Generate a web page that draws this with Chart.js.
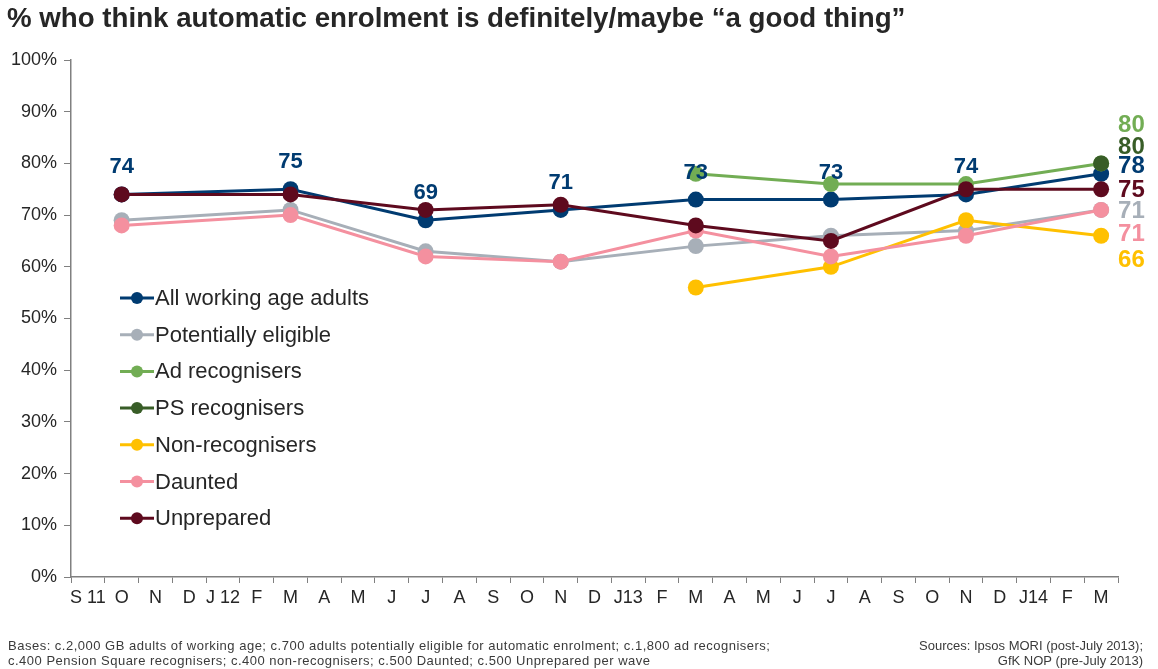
<!DOCTYPE html>
<html>
<head>
<meta charset="utf-8">
<script src="https://cdn.jsdelivr.net/npm/chart.js@4.4.1/dist/chart.umd.min.js"></script>
<style>
  html, body { margin: 0; padding: 0; background: #fff; }
  #wrap { position: relative; width: 1158px; height: 669px; }
</style>
</head>
<body>
<div id="wrap"><canvas id="mainChart" width="1158" height="669"></canvas></div>
<script>
// month labels, Sept 2011 to March 2014
const months = ['S 11','O','N','D','J 12','F','M','A','M','J','J','A','S','O','N','D','J13','F','M','A','M','J','J','A','S','O','N','D','J14','F','M'];

// survey waves (null = no wave that month)
const _ = null;
const allAdults    = [_,74,_,_,_,_,75,_,_,_,69,_,_,_,71,_,_,_,73,_,_,_,73,_,_,_,74,_,_,_,78];
const potEligible  = [_,69,_,_,_,_,71,_,_,_,63,_,_,_,61,_,_,_,64,_,_,_,66,_,_,_,67,_,_,_,71];
const adRecog      = [_,_,_,_,_,_,_,_,_,_,_,_,_,_,_,_,_,_,78,_,_,_,76,_,_,_,76,_,_,_,80];
const psRecog      = [_,_,_,_,_,_,_,_,_,_,_,_,_,_,_,_,_,_,_,_,_,_,_,_,_,_,_,_,_,_,80];
const nonRecog     = [_,_,_,_,_,_,_,_,_,_,_,_,_,_,_,_,_,_,56,_,_,_,60,_,_,_,69,_,_,_,66];
const daunted      = [_,68,_,_,_,_,70,_,_,_,62,_,_,_,61,_,_,_,67,_,_,_,62,_,_,_,66,_,_,_,71];
const unprepared   = [_,74,_,_,_,_,74,_,_,_,71,_,_,_,72,_,_,_,68,_,_,_,65,_,_,_,75,_,_,_,75];

const seriesNames  = ['All working age adults','Potentially eligible','Ad recognisers','PS recognisers','Non-recognisers','Daunted','Unprepared'];
const seriesData   = [allAdults, potEligible, adRecog, psRecog, nonRecog, daunted, unprepared];
const seriesColors = ['#003B71','#A7AFB8','#72AD54','#385D27','#FFC000','#F4909F','#5E0A1E'];
// drawing order: lower sits on top
const seriesOrder  = [6, 5, 4, 3, 2, 1, 0];
// nudge (px) for the end-of-line value labels so they don't collide
const endNudge     = [-7, 1, -38, -16, 25, 24, 1];

const yTicks = [0,10,20,30,40,50,60,70,80,90,100];

const FONT = 'Arial, "Liberation Sans", sans-serif';
const TEXT = '#262626';

const datasets = seriesNames.map((name, i) => ({
  label: name,
  data: seriesData[i],
  borderColor: seriesColors[i],
  backgroundColor: seriesColors[i],
  pointBackgroundColor: seriesColors[i],
  pointBorderWidth: 0,
  pointRadius: 8,
  pointHoverRadius: 8,
  borderWidth: 3,
  tension: 0,
  spanGaps: true,
  order: seriesOrder[i]
}));

// labels, legend, title and footnotes painted on top of the plot
const overlay = {
  id: 'overlay',
  afterDraw(chart) {
    const ctx = chart.ctx;
    ctx.save();

    // title
    ctx.fillStyle = TEXT;
    ctx.font = 'bold 27.7px ' + FONT;
    ctx.textAlign = 'left';
    ctx.textBaseline = 'middle';
    ctx.fillText('% who think automatic enrolment is definitely/maybe \u201ca good thing\u201d', 7, 19);

    // wave values for all working age adults
    const meta0 = chart.getDatasetMeta(0);
    ctx.font = 'bold 22px ' + FONT;
    ctx.fillStyle = seriesColors[0];
    ctx.textAlign = 'center';
    const last = allAdults.length - 1;
    allAdults.forEach((v, j) => {
      if (v === null || j === last) return;
      const p = meta0.data[j];
      ctx.fillText(String(v), p.x, p.y - 27);
    });

    // end-of-line values
    ctx.font = 'bold 24px ' + FONT;
    ctx.textAlign = 'left';
    const yScale = chart.scales.y;
    const xScale = chart.scales.x;
    seriesData.forEach((arr, i) => {
      const v = arr[last];
      if (v === null) return;
      ctx.fillStyle = seriesColors[i];
      ctx.fillText(String(v), xScale.getPixelForValue(last) + 17, yScale.getPixelForValue(v) + endNudge[i]);
    });

    // legend
    ctx.font = '22px ' + FONT;
    seriesNames.forEach((name, i) => {
      const y = 298 + i * 36.7;
      ctx.strokeStyle = seriesColors[i];
      ctx.lineWidth = 3;
      ctx.beginPath();
      ctx.moveTo(120, y);
      ctx.lineTo(154, y);
      ctx.stroke();
      ctx.fillStyle = seriesColors[i];
      ctx.beginPath();
      ctx.arc(137, y, 6, 0, Math.PI * 2);
      ctx.fill();
      ctx.fillStyle = TEXT;
      ctx.fillText(name, 155, y + 1);
    });

    // footnotes
    ctx.font = '13px ' + FONT;
    ctx.fillStyle = '#3a3a3a';
    ctx.textAlign = 'left';
    ctx.letterSpacing = '0.5px';
    ctx.fillText('Bases: c.2,000 GB adults of working age; c.700 adults potentially eligible for automatic enrolment; c.1,800 ad recognisers;', 8, 646);
    ctx.fillText('c.400 Pension Square recognisers; c.400 non-recognisers; c.500 Daunted; c.500 Unprepared per wave', 8, 661);
    ctx.letterSpacing = '0px';
    ctx.textAlign = 'right';
    ctx.fillText('Sources: Ipsos MORI (post-July 2013);', 1143, 646);
    ctx.fillText('GfK NOP (pre-July 2013)', 1143, 661);

    ctx.restore();
  }
};

new Chart(document.getElementById('mainChart'), {
  type: 'line',
  data: { labels: months, datasets },
  options: {
    responsive: false,
    animation: false,
    devicePixelRatio: 1,
    layout: { padding: { top: 60, right: 40, left: 0, bottom: 0 } },
    plugins: {
      legend: { display: false },
      tooltip: { enabled: false },
      title: { display: false }
    },
    scales: {
      x: {
        type: 'category',
        offset: true,
        afterFit(scale) { scale.height = 92; },
        grid: {
          display: true,
          drawOnChartArea: false,
          offset: true,
          tickLength: 6,
          color: '#808080',
          lineWidth: 1
        },
        border: { display: true, color: '#808080', width: 1.5 },
        ticks: {
          autoSkip: false,
          maxRotation: 0,
          minRotation: 0,
          padding: 4,
          color: TEXT,
          font: { family: FONT, size: 18 }
        }
      },
      y: {
        min: 0,
        max: 100,
        afterFit(scale) { scale.width = 71; },
        afterBuildTicks(scale) { scale.ticks = yTicks.map(v => ({ value: v })); },
        grid: {
          display: true,
          drawOnChartArea: false,
          tickLength: 7,
          color: '#808080'
        },
        border: { display: true, color: '#808080', width: 1.5 },
        ticks: {
          padding: 7,
          color: TEXT,
          font: { family: FONT, size: 18 },
          callback: v => v + '%'
        }
      }
    }
  },
  plugins: [overlay]
});
</script>
</body>
</html>
